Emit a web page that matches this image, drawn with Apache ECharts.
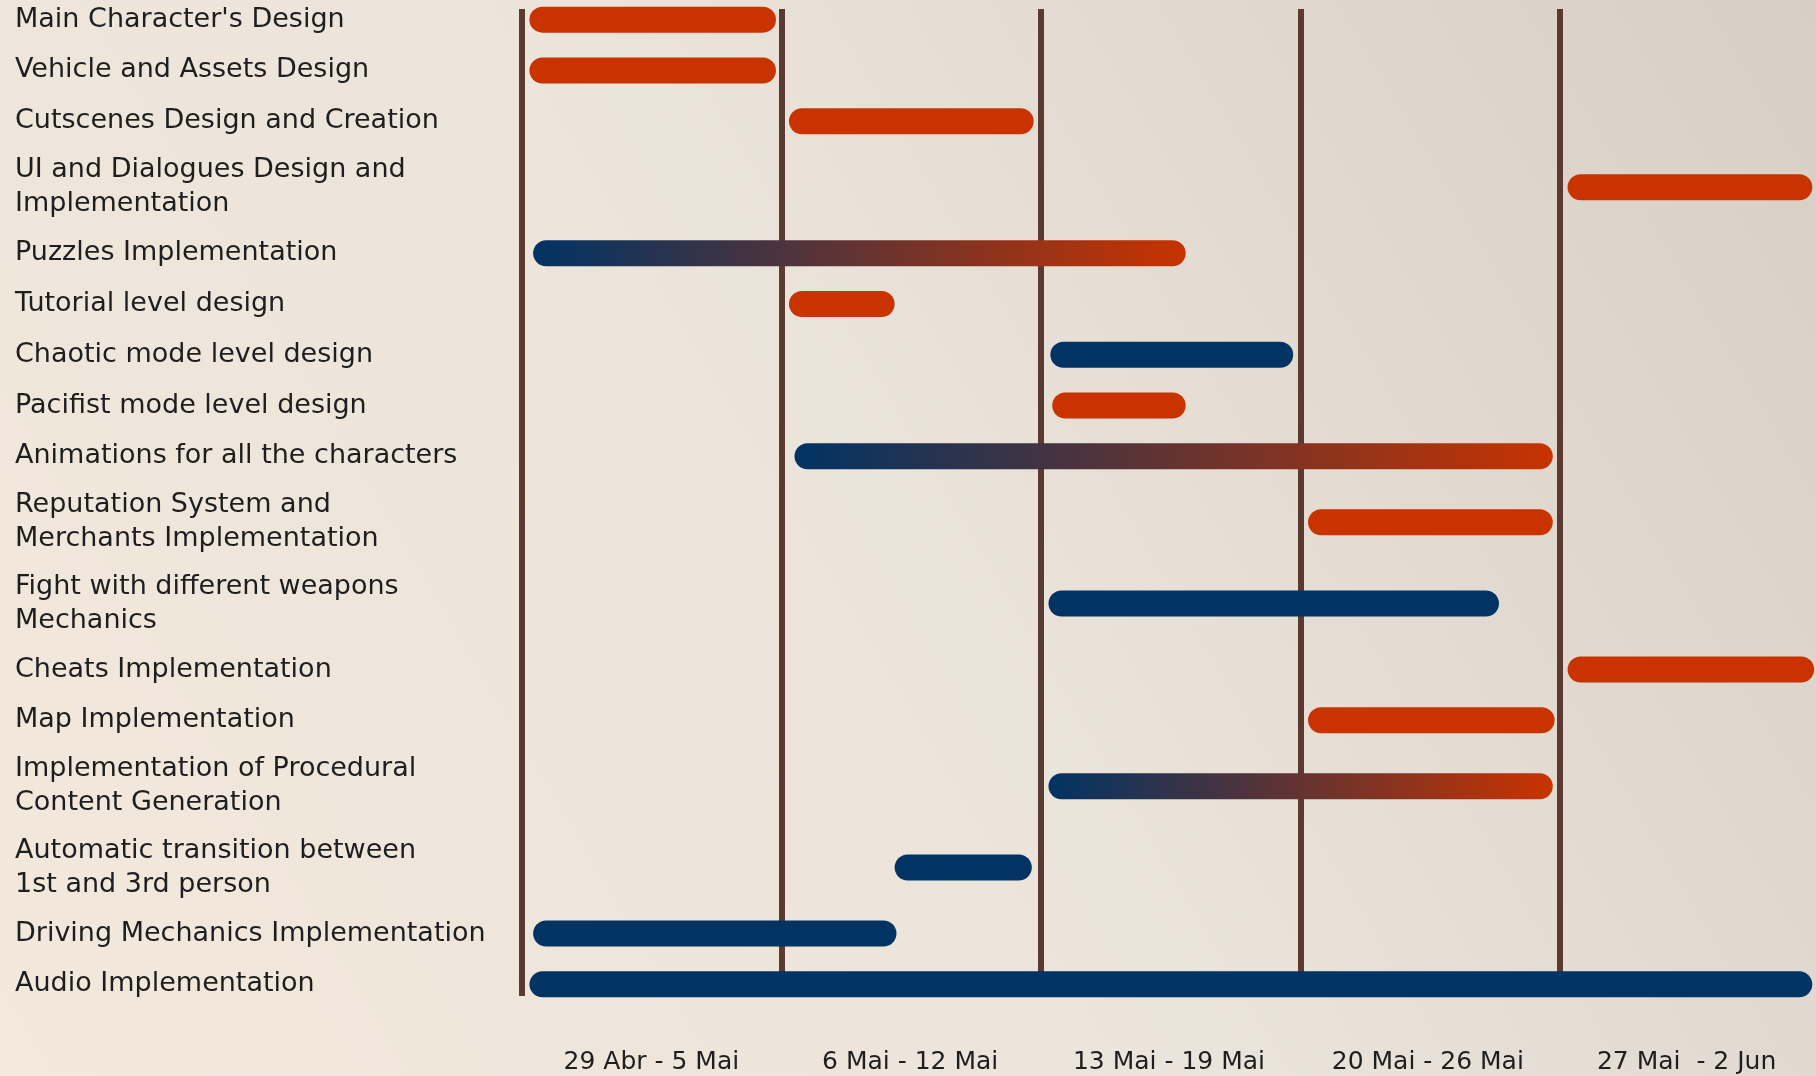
<!DOCTYPE html>
<html>
<head>
<meta charset="utf-8">
<script src="https://cdn.jsdelivr.net/npm/echarts@6/dist/echarts.min.js"></script>
<style>
  html, body { margin: 0; padding: 0; }
  #gantt { width: 1816px; height: 1076px; }
</style>
</head>
<body>
<div id="gantt"></div>
<script>
// tasks (rows, top to bottom)
var tasks = [
    "Main Character's Design",
    "Vehicle and Assets Design",
    "Cutscenes Design and Creation",
    "UI and Dialogues Design and\nImplementation",
    "Puzzles Implementation",
    "Tutorial level design",
    "Chaotic mode level design",
    "Pacifist mode level design",
    "Animations for all the characters",
    "Reputation System and\nMerchants Implementation",
    "Fight with different weapons\nMechanics",
    "Cheats Implementation",
    "Map Implementation",
    "Implementation of Procedural\nContent Generation",
    "Automatic transition between\n1st and 3rd person",
    "Driving Mechanics Implementation",
    "Audio Implementation"
];
// days counted from 29 Abr
var startDay = [0.2, 0.2, 7.2, 28.2, 0.3, 7.2, 14.25, 14.3, 7.35, 21.2, 14.2, 28.2, 21.2, 14.2, 10.05, 0.3, 0.2];
var endDay   = [6.85, 6.85, 13.8, 34.8, 17.9, 10.05, 20.8, 17.9, 27.8, 27.8, 26.35, 34.85, 27.85, 27.8, 13.75, 10.1, 34.8];
var kind     = ['red', 'red', 'red', 'red', 'mix', 'red', 'blue', 'red', 'mix', 'red', 'blue', 'red', 'red', 'mix', 'blue', 'blue', 'blue'];
var weeks    = ['29 Abr - 5 Mai', '6 Mai - 12 Mai', '13 Mai - 19 Mai', '20 Mai - 26 Mai', '27 Mai  - 2 Jun'];

var RED = '#c83300';
var BLUE = '#013363';

// two-line labels get a taller row
var pos = [];
var acc = 0;
for (var i = 0; i < tasks.length; i++) {
    var size = 1 + 0.6 * (tasks[i].split('\n').length - 1);
    if (i > 0) {
        var prev = 1 + 0.6 * (tasks[i - 1].split('\n').length - 1);
        acc += (prev + size) / 2;
    }
    pos.push(acc);
}

var barData = [];
for (i = 0; i < tasks.length; i++) {
    barData.push([startDay[i], endDay[i], pos[i], i]);
}

function fillFor(k) {
    if (k === 'red') return RED;
    if (k === 'blue') return BLUE;
    return new echarts.graphic.LinearGradient(0, 0, 1, 0, [
        { offset: 0, color: BLUE },
        { offset: 1, color: RED }
    ]);
}

var chart = echarts.init(document.getElementById('gantt'));

var option = {
    animation: false,
    backgroundColor: new echarts.graphic.LinearGradient(1, 0, 0, 1, [
        { offset: 0, color: '#d7cec4' },
        { offset: 0.5, color: '#ebe4da' },
        { offset: 1, color: '#f3e8dc' }
    ]),
    grid: {
        left: 522,
        right: 0,
        top: 9,
        bottom: 80
    },
    xAxis: [{
        type: 'value',
        min: 0,
        max: 34.9,
        interval: 7,
        axisLine: { show: false },
        axisTick: { show: false },
        axisLabel: { show: false },
        splitLine: {
            show: true,
            showMaxLine: false,
            lineStyle: { color: '#5b3a31', width: 6 }
        }
    }, {
        type: 'category',
        data: weeks,
        position: 'bottom',
        boundaryGap: true,
        axisLine: { show: false },
        axisTick: { show: false },
        splitLine: { show: false },
        axisLabel: {
            interval: 0,
            hideOverlap: false,
            margin: 54,
            color: '#1e1e1e',
            fontFamily: 'DejaVu Sans',
            fontSize: 25
        }
    }],
    yAxis: {
        type: 'value',
        inverse: true,
        min: -0.21,
        max: pos[pos.length - 1] + 0.23,
        axisLine: { show: false },
        axisTick: { show: false },
        splitLine: { show: false },
        axisLabel: {
            customValues: pos,
            align: 'left',
            margin: 507,
            color: '#1e1e1e',
            fontFamily: 'DejaVu Sans',
            fontSize: 27,
            lineHeight: 34,
            formatter: function (v) {
                for (var j = 0; j < pos.length; j++) {
                    if (Math.abs(pos[j] - v) < 1e-6) return tasks[j];
                }
                return '';
            }
        }
    },
    series: [{
        type: 'custom',
        xAxisIndex: 0,
        yAxisIndex: 0,
        encode: { x: [0, 1], y: 2 },
        data: barData,
        renderItem: function (params, api) {
            var idx = api.value(3);
            var a = api.coord([api.value(0), api.value(2)]);
            var b = api.coord([api.value(1), api.value(2)]);
            var h = 26;
            return {
                type: 'rect',
                shape: { x: a[0], y: a[1] - h / 2, width: b[0] - a[0], height: h, r: h / 2 },
                style: { fill: fillFor(kind[idx]) }
            };
        }
    }]
};

chart.setOption(option);
</script>
</body>
</html>
